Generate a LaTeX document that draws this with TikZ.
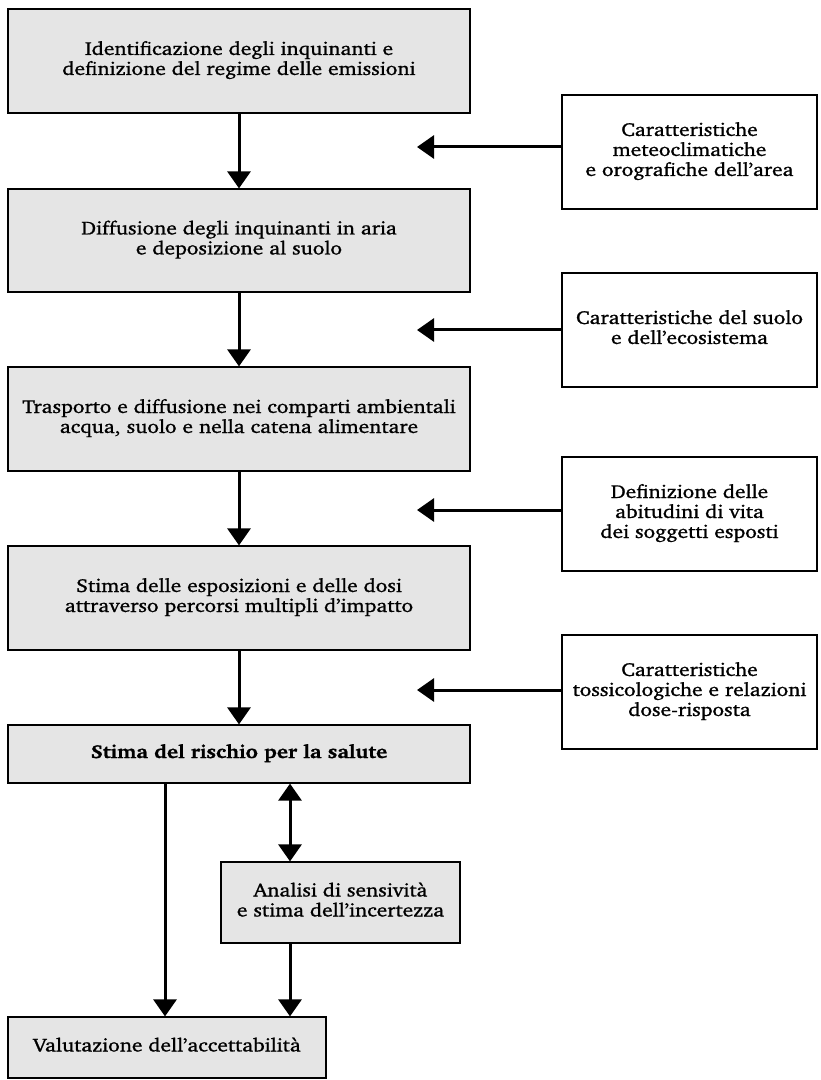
\documentclass[tikz,border=0pt]{standalone}
\usepackage[T1]{fontenc}
\usepackage{charter}
\usepackage{graphicx}
\usetikzlibrary{arrows.meta}

% testo allargato in orizzontale e un po' piu' marcato, righe centrate
\newcommand{\testo}[1]{\special{pdf:code q 2 Tr 0.09 w}%
  \scalebox{1.14}[1]{\begin{tabular}{@{}c@{}}#1\end{tabular}}%
  \special{pdf:code Q}}

\begin{document}
\begin{tikzpicture}[x=0.5pt,y=-0.5pt,
  grigio/.style={draw, line width=0.6pt, fill=black!10, align=center,
    inner sep=0pt, font=\fontsize{9.4}{10}\selectfont},
  bianco/.style={draw, line width=0.6pt, fill=white, align=center,
    inner sep=0pt, font=\fontsize{9.4}{10}\selectfont,
    minimum width=127.5pt, minimum height=57pt},
  freccia/.style={line width=1.5pt, -{Triangle[width=11.5pt,length=8.5pt]}}]

\useasboundingbox (0,0) rectangle (820,1080);

% Catena principale (riquadri grigi)
\node[grigio, minimum width=231pt, minimum height=52pt] (ident) at (239,61)
  {\testo{Identificazione degli inquinanti e\\definizione del regime delle emissioni}};
\node[grigio, minimum width=231pt, minimum height=51.5pt] (diffus) at (239,240.5)
  {\testo{Diffusione degli inquinanti in aria\\e deposizione al suolo}};
\node[grigio, minimum width=231pt, minimum height=52pt] (traspo) at (239,419)
  {\testo{Trasporto e diffusione nei comparti ambientali\\acqua, suolo e nella catena alimentare}};
\node[grigio, minimum width=231pt, minimum height=52pt] (espos) at (239,598)
  {\testo{Stima delle esposizioni e delle dosi\\attraverso percorsi multipli d'impatto}};
\node[grigio, minimum width=231pt, minimum height=29pt] (rischio) at (239,754)
  {\testo{\bfseries Stima del rischio per la salute}};
\node[grigio, minimum width=119.5pt, minimum height=40.5pt] (analisi) at (340.5,902.5)
  {\testo{Analisi di sensivit\`a\\e stima dell'incertezza}};
\node[grigio, minimum width=159pt, minimum height=30.5pt] (valut) at (167,1047.5)
  {\testo{Valutazione dell'accettabilit\`a}};

% Fattori in ingresso (riquadri bianchi)
\node[bianco] (meteo) at (689.5,152)
  {\testo{Caratteristiche\\meteoclimatiche\\e orografiche dell'area}};
\node[bianco] (suolo) at (689.5,330)
  {\testo{Caratteristiche del suolo\\e dell'ecosistema}};
\node[bianco] (abitud) at (689.5,514)
  {\testo{Definizione delle\\abitudini di vita\\dei soggetti esposti}};
\node[bianco] (tossic) at (689.5,692)
  {\testo{Caratteristiche\\tossicologiche e relazioni\\dose-risposta}};

% Punte delle frecce orizzontali e colonne delle frecce in basso
\coordinate (p1) at (417,147);
\coordinate (p2) at (417,330);
\coordinate (p3) at (417,510);
\coordinate (p4) at (417,690);
\coordinate (sx) at (165,0);
\coordinate (dx) at (290,0);

% Frecce verticali
\draw[freccia] (ident) -- (diffus);
\draw[freccia] (diffus) -- (traspo);
\draw[freccia] (traspo) -- (espos);
\draw[freccia] (espos) -- (rischio);

% Frecce orizzontali
\draw[freccia] (meteo.west |- p1) -- (p1);
\draw[freccia] (suolo.west |- p2) -- (p2);
\draw[freccia] (abitud.west |- p3) -- (p3);
\draw[freccia] (tossic.west |- p4) -- (p4);

% Rischio, incertezza, accettabilita'
\draw[freccia] (rischio.south -| sx) -- (valut.north -| sx);
\draw[freccia, {Triangle[width=11.5pt,length=8.5pt]}-{Triangle[width=11.5pt,length=8.5pt]}]
  (rischio.south -| dx) -- (analisi.north -| dx);
\draw[freccia] (analisi.south -| dx) -- (valut.north -| dx);
\end{tikzpicture}
\end{document}
